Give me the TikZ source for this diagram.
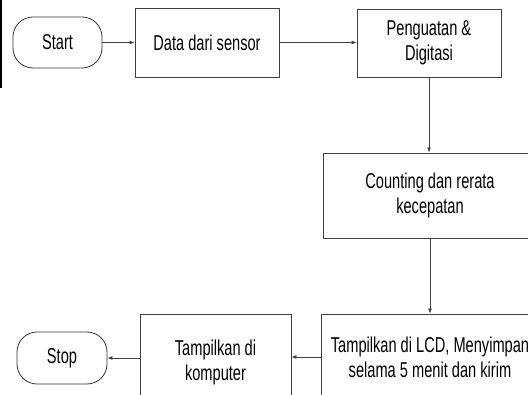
\documentclass[tikz,border=0pt]{standalone}
\usepackage{fontspec}
\setmainfont[FakeStretch=0.68]{Liberation Sans}
\usetikzlibrary{arrows.meta}
\begin{document}
\begin{tikzpicture}[x=1pt,y=-1pt,
  every node/.style={font=\fontsize{21.5}{25}\selectfont, text=black, align=center, inner sep=0pt},
  procbox/.style={draw=black!75, line width=0.8pt, rectangle},
  term/.style={draw=black!80, line width=0.8pt, rectangle, rounded corners=20pt},
  flow/.style={draw=black!75, line width=0.8pt, -{Latex[length=5pt,width=4pt]}}]
  \useasboundingbox (0,0) rectangle (528,395);
  \clip (0,0) rectangle (528,395);

  % edge of a neighbouring element at the left border
  \draw[line width=1.8pt, black] (1,0) -- (1,88);

  % top row
  \node[term, minimum width=89pt, minimum height=51pt] (start) at (57.5,42.5) {Start};
  \node[procbox, minimum width=144pt, minimum height=69pt] (data) at (207,42.5) {Data dari sensor};
  \node[procbox, minimum width=144pt, minimum height=68pt] (amp) at (429,43) {Penguatan \&\\Digitasi};

  % middle
  \node[procbox, minimum width=214pt, minimum height=85pt] (count) at (430,195.5) {Counting dan rerata\\kecepatan};

  % bottom row
  \node[procbox, minimum width=218pt, minimum height=86pt] (lcd) at (430,357) {Tampilkan di LCD, Menyimpan\\selama 5 menit dan kirim};
  \node[procbox, minimum width=151pt, minimum height=96pt] (pc) at (215.5,362) {Tampilkan di\\komputer};
  \node[term, minimum width=90pt, minimum height=52pt] (stop) at (62,358) {Stop};

  % connectors
  \draw[flow] (start.east) -- (data.west);
  \draw[flow] (data.east) -- (data.east -| amp.west);
  \draw[flow] (amp.south) -- (amp.south |- count.north);
  \draw[flow] (count.south) -- (count.south |- lcd.north);
  \draw[flow] (lcd.west) -- (lcd.west -| pc.east);
  \draw[flow] (pc.west |- stop.east) -- (stop.east);
\end{tikzpicture}
\end{document}
